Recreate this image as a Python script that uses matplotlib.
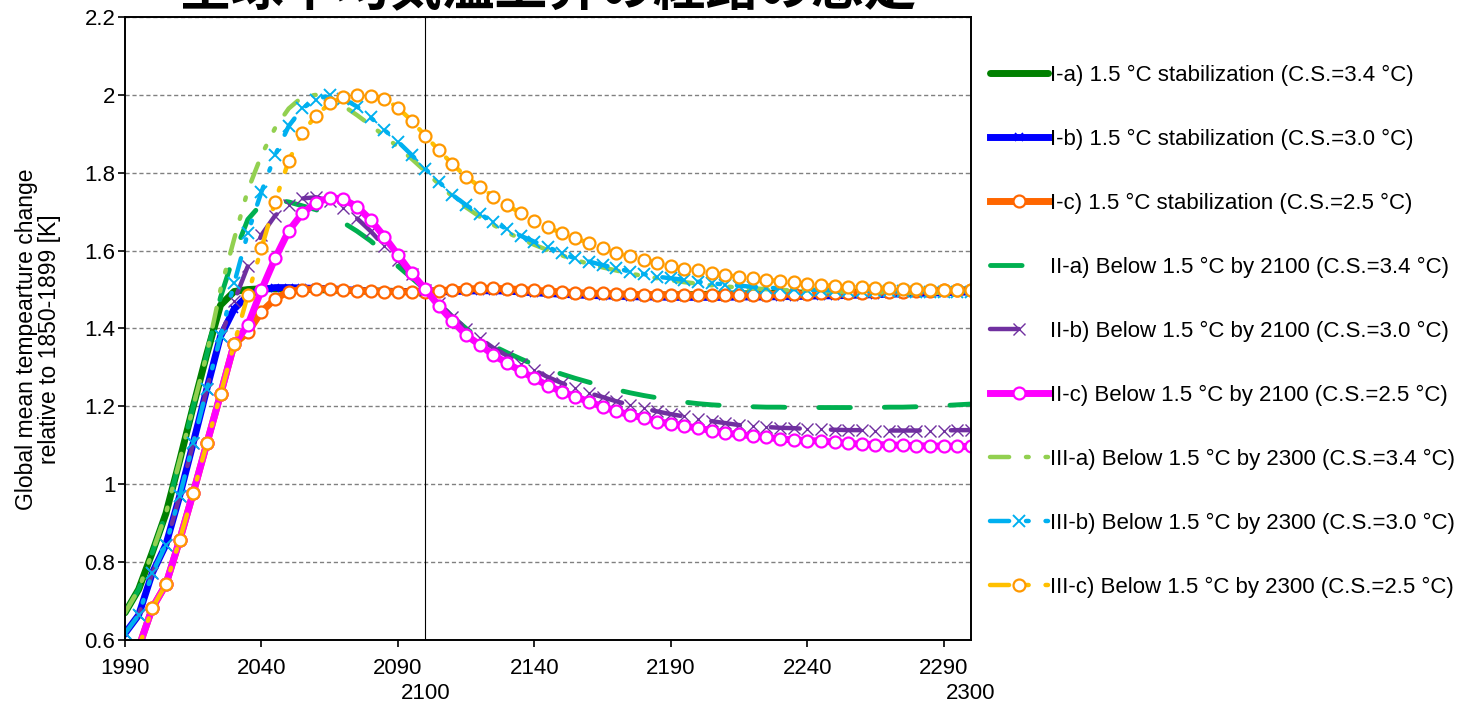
import matplotlib
matplotlib.use('Agg')
import matplotlib.pyplot as plt
import numpy as np

plt.rcParams['font.family'] = ['Liberation Sans', 'Noto Sans CJK JP', 'DejaVu Sans']

# years every 5 years, 1990-2300
years = np.arange(1990, 2301, 5)

# values (K)
ia = [0.67, 0.73, 0.825, 0.925, 1.06, 1.20, 1.335, 1.46, 1.495, 1.50,
      1.502, 1.502, 1.502, 1.501, 1.500, 1.499, 1.498, 1.497, 1.496, 1.496,
      1.495, 1.495, 1.496, 1.497, 1.498, 1.499, 1.499, 1.498, 1.497, 1.495,
      1.493, 1.491, 1.489, 1.488, 1.487, 1.486, 1.486, 1.486, 1.486, 1.486,
      1.486, 1.487, 1.487, 1.488, 1.488, 1.489, 1.489, 1.490, 1.490, 1.491,
      1.491, 1.492, 1.492, 1.493, 1.493, 1.494, 1.494, 1.495, 1.495, 1.496,
      1.496, 1.497, 1.497]
ib = [0.617, 0.664, 0.772, 0.845, 0.969, 1.106, 1.245, 1.38, 1.45, 1.485,
      1.50, 1.505, 1.505, 1.504, 1.503, 1.502, 1.500, 1.498, 1.496, 1.495,
      1.495, 1.495, 1.494, 1.494, 1.495, 1.496, 1.497, 1.497, 1.496, 1.494,
      1.492, 1.490, 1.488, 1.486, 1.485, 1.484, 1.483, 1.482, 1.481, 1.481,
      1.480, 1.480, 1.480, 1.480, 1.480, 1.481, 1.481, 1.481, 1.482, 1.482,
      1.483, 1.484, 1.484, 1.485, 1.486, 1.487, 1.488, 1.489, 1.490, 1.491,
      1.492, 1.493, 1.494]
ic = [0.52, 0.58, 0.682, 0.743, 0.856, 0.978, 1.105, 1.231, 1.36, 1.39,
      1.443, 1.476, 1.495, 1.500, 1.502, 1.501, 1.499, 1.497, 1.496, 1.495,
      1.494, 1.494, 1.495, 1.497, 1.499, 1.501, 1.503, 1.503, 1.502, 1.500,
      1.498, 1.496, 1.494, 1.492, 1.491, 1.490, 1.489, 1.488, 1.487, 1.487,
      1.486, 1.486, 1.486, 1.486, 1.486, 1.487, 1.487, 1.487, 1.488, 1.488,
      1.489, 1.490, 1.490, 1.491, 1.492, 1.493, 1.494, 1.495, 1.496, 1.497,
      1.498, 1.499, 1.50]
iia = [0.67, 0.73, 0.825, 0.925, 1.06, 1.20, 1.335, 1.48, 1.59, 1.68,
       1.72, 1.73, 1.725, 1.715, 1.705, 1.69, 1.672, 1.65, 1.625, 1.595,
       1.56, 1.53, 1.50, 1.465, 1.43, 1.40, 1.375, 1.355, 1.338, 1.322,
       1.307, 1.295, 1.283, 1.272, 1.262, 1.252, 1.243, 1.235, 1.228, 1.222,
       1.216, 1.211, 1.207, 1.204, 1.202, 1.200, 1.199, 1.198, 1.198, 1.197,
       1.197, 1.197, 1.197, 1.197, 1.197, 1.197, 1.198, 1.198, 1.199, 1.200,
       1.202, 1.204, 1.206]
iib = [0.617, 0.664, 0.772, 0.845, 0.969, 1.106, 1.245, 1.38, 1.47, 1.56,
       1.64, 1.69, 1.718, 1.734, 1.737, 1.728, 1.709, 1.683, 1.65, 1.612,
       1.576, 1.54, 1.50, 1.465, 1.43, 1.40, 1.375, 1.35, 1.33, 1.31,
       1.293, 1.275, 1.26, 1.246, 1.234, 1.224, 1.213, 1.204, 1.195, 1.187,
       1.18, 1.174, 1.167, 1.162, 1.157, 1.152, 1.149, 1.147, 1.145, 1.144,
       1.142, 1.141, 1.14, 1.139, 1.139, 1.138, 1.138, 1.138, 1.138, 1.138,
       1.138, 1.139, 1.139]
iic = [0.52, 0.58, 0.682, 0.743, 0.856, 0.978, 1.105, 1.231, 1.36, 1.409,
       1.499, 1.58, 1.651, 1.696, 1.723, 1.736, 1.732, 1.713, 1.679, 1.636,
       1.589, 1.542, 1.501, 1.458, 1.419, 1.383, 1.358, 1.332, 1.311, 1.291,
       1.272, 1.253, 1.238, 1.225, 1.212, 1.199, 1.188, 1.178, 1.171, 1.161,
       1.155, 1.15, 1.144, 1.138, 1.131, 1.128, 1.124, 1.121, 1.116, 1.114,
       1.112, 1.111, 1.108, 1.105, 1.103, 1.102, 1.101, 1.100, 1.099, 1.098,
       1.098, 1.097, 1.097]
iiia = [0.67, 0.73, 0.825, 0.925, 1.06, 1.20, 1.335, 1.50, 1.63, 1.755,
        1.845, 1.915, 1.965, 1.995, 2.0, 1.99, 1.972, 1.948, 1.922, 1.895,
        1.866, 1.836, 1.804, 1.771, 1.739, 1.711, 1.687, 1.666, 1.647, 1.63,
        1.615, 1.601, 1.588, 1.576, 1.566, 1.557, 1.549, 1.541, 1.535, 1.529,
        1.524, 1.519, 1.515, 1.511, 1.508, 1.505, 1.503, 1.501, 1.499, 1.498,
        1.497, 1.496, 1.495, 1.494, 1.494, 1.493, 1.493, 1.492, 1.492, 1.492,
        1.491, 1.491, 1.491]
iiib = [0.617, 0.664, 0.772, 0.845, 0.969, 1.106, 1.245, 1.38, 1.516, 1.645,
        1.751, 1.845, 1.92, 1.966, 1.987, 2.0, 1.99, 1.97, 1.942, 1.91,
        1.88, 1.846, 1.81, 1.777, 1.743, 1.717, 1.694, 1.674, 1.655, 1.638,
        1.623, 1.609, 1.593, 1.58, 1.572, 1.563, 1.555, 1.546, 1.54, 1.533,
        1.529, 1.525, 1.52, 1.516, 1.513, 1.51, 1.507, 1.505, 1.503, 1.501,
        1.50, 1.499, 1.498, 1.497, 1.497, 1.496, 1.496, 1.496, 1.495, 1.495,
        1.495, 1.495, 1.495]
iiic = [0.52, 0.58, 0.682, 0.743, 0.856, 0.978, 1.105, 1.231, 1.36, 1.486,
        1.606, 1.726, 1.831, 1.903, 1.947, 1.978, 1.994, 2.0, 1.998, 1.99,
        1.967, 1.934, 1.895, 1.858, 1.822, 1.79, 1.764, 1.739, 1.717, 1.696,
        1.677, 1.661, 1.644, 1.632, 1.619, 1.606, 1.595, 1.586, 1.576, 1.569,
        1.561, 1.553, 1.549, 1.543, 1.537, 1.533, 1.529, 1.525, 1.522, 1.519,
        1.514, 1.512, 1.509, 1.506, 1.506, 1.505, 1.503, 1.502, 1.501, 1.50,
        1.50, 1.50, 1.499]

labels = [
    'I-a) 1.5 °C stabilization (C.S.=3.4 °C)',
    'I-b) 1.5 °C stabilization (C.S.=3.0 °C)',
    'I-c) 1.5 °C stabilization (C.S.=2.5 °C)',
    'II-a) Below 1.5 °C by 2100 (C.S.=3.4 °C)',
    'II-b) Below 1.5 °C by 2100 (C.S.=3.0 °C)',
    'II-c) Below 1.5 °C by 2100 (C.S.=2.5 °C)',
    'III-a) Below 1.5 °C by 2300 (C.S.=3.4 °C)',
    'III-b) Below 1.5 °C by 2300 (C.S.=3.0 °C)',
    'III-c) Below 1.5 °C by 2300 (C.S.=2.5 °C)',
]
titulo = '全球平均気温上昇の経路の想定'

fig = plt.figure(figsize=(14.66, 7.06), dpi=100)
ax = fig.add_axes([125/1466, 1 - 640/706, (971 - 125)/1466, (640 - 17)/706])

longdash = (0, (6.5, 7))
dashdotdot = (0, (4.3, 3.8, 0.6, 3.8, 0.6, 3.8))
ms = 8.6

ax.plot(years, ia, color='#008000', lw=5, solid_capstyle='round', label=labels[0])
ax.plot(years, ib, color='#0000FF', lw=5, marker='x', ms=6, mew=1.2, label=labels[1])
ax.plot(years, ic, color='#FF6600', lw=5, marker='o', ms=ms, mfc='white',
        mec='#FF6600', mew=1.6, label=labels[2])
ax.plot(years, iia, color='#00B050', lw=3.5, ls=longdash, dash_capstyle='round', label=labels[3])
ax.plot(years, iib, color='#7030A0', lw=3.2, ls=longdash, dash_capstyle='round',
        marker='x', ms=ms, mew=1, label=labels[4])
ax.plot(years, iic, color='#FF00FF', lw=5, marker='o', ms=ms, mfc='white',
        mec='#FF00FF', mew=1.6, label=labels[5])
ax.plot(years, iiia, color='#92D050', lw=3.2, ls=dashdotdot, dash_capstyle='round', label=labels[6])
ax.plot(years, iiib, color='#00B0F0', lw=3.2, ls=dashdotdot, dash_capstyle='round',
        marker='x', ms=ms, mew=1.4, label=labels[7])
ax.plot(years, iiic, color='#FFC000', lw=3.2, ls=dashdotdot, dash_capstyle='round',
        marker='o', ms=ms, mfc='white', mec='#FF9900', mew=1.6, label=labels[8])

ax.axvline(2100, color='black', lw=0.8, zorder=1.5)

ax.set_xlim(1990, 2300)
ax.set_ylim(0.6, 2.2)
ax.set_xticks(np.arange(1990, 2291, 50))
ax.set_xticks([2100, 2300], minor=True)
ax.set_xticklabels(['2100', '2300'], minor=True)
yt = np.arange(0.6, 2.21, 0.2)
ax.set_yticks(yt)
ax.set_yticklabels(['%g' % round(v, 1) for v in yt])
ax.tick_params(axis='both', which='major', labelsize=16, direction='out', length=5, width=1.2)
ax.tick_params(axis='x', which='major', pad=8)
ax.tick_params(axis='x', which='minor', labelsize=16, length=0, pad=31)
ax.tick_params(axis='y', pad=2)

ax.yaxis.grid(True, linestyle=(0, (3, 2)), color='#808080', lw=1)
ax.set_axisbelow(True)
for s in ax.spines.values():
    s.set_linewidth(1.4)
    s.set_color('black')

fig.text(38/1466, 0.52, 'Global mean tempearture change\nrelative to 1850-1899 [K]',
         rotation=90, ha='center', va='center', fontsize=16.5, multialignment='center',
         linespacing=0.95)

fig.text(548/1466, 1 - 5.6/706, titulo, ha='center', va='baseline',
         fontsize=38, fontweight='bold', family=['Noto Sans CJK JP', 'DejaVu Sans'])

ax.legend(loc='upper left', bbox_to_anchor=(990/1466, 1 - 65/706),
          bbox_transform=fig.transFigure, frameon=False, fontsize=16,
          handlelength=2.6, handletextpad=0.1, labelspacing=1.93,
          borderaxespad=0, borderpad=0)

fig.savefig('out.png', dpi=100)
